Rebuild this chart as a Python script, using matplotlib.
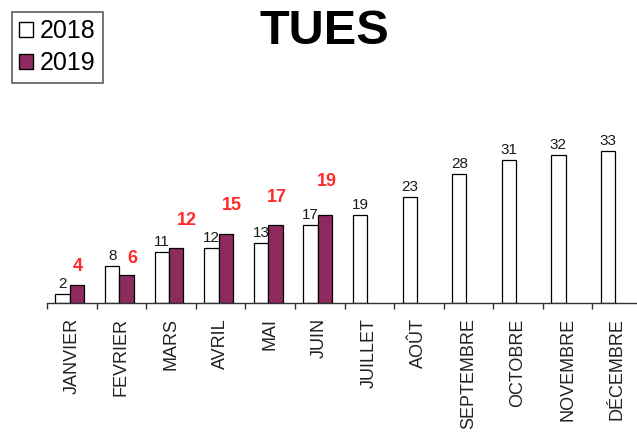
import numpy as np
import matplotlib
matplotlib.use('Agg')
import matplotlib.pyplot as plt
from matplotlib.patches import Patch

plt.rcParams['font.family'] = ['Liberation Sans', 'DejaVu Sans']

# data
months = ['JANVIER', 'FEVRIER', 'MARS', 'AVRIL', 'MAI', 'JUIN', 'JUILLET',
          'AOÛT', 'SEPTEMBRE', 'OCTOBRE', 'NOVEMBRE', 'DÉCEMBRE']
tues_2018 = [2, 8, 11, 12, 13, 17, 19, 23, 28, 31, 32, 33]
tues_2019 = [4, 6, 12, 15, 17, 19]

# hand placed red labels (pixels from bar top)
red_dx = [1, 6, 11, 6, 2, 2]
red_dy = [14, 12, 23, 24, 23, 29]

purple = '#8E2B5E'
red = '#ff2a2a'

fig = plt.figure(figsize=(6.37, 4.34), dpi=100)
ax = fig.add_axes([47/637, 131/434, 595/637, 166/434])

x = np.arange(len(months))
w = 0.29
ax.bar(x - 0.185, tues_2018, w, color='white', edgecolor='black', linewidth=0.9)
x19 = x[:len(tues_2019)]
ax.bar(x19 + 0.105, tues_2019, w, color=purple, edgecolor='black', linewidth=0.9)

for xi, v in zip(x, tues_2018):
    ax.annotate(str(v), (xi - 0.185, v), xytext=(0, 6), textcoords='offset pixels',
                ha='center', va='baseline', fontsize=11, color='#1a1a1a')
for xi, v, dx, dy in zip(x19, tues_2019, red_dx, red_dy):
    ax.annotate(str(v), (xi + 0.105, v), xytext=(dx, dy), textcoords='offset pixels',
                ha='center', va='baseline', fontsize=13, fontweight='bold', color=red)

ax.set_xlim(-0.5, len(months) - 0.5)
ax.set_ylim(0, 36)
for s in ['top', 'left', 'right']:
    ax.spines[s].set_visible(False)
ax.spines['bottom'].set_linewidth(1.0)
ax.spines['bottom'].set_color('#333333')
ax.set_yticks([])

ax.set_xticks(x)
ax.set_xticklabels(months, rotation=90, fontsize=13, color='#222222')
ax.tick_params(axis='x', which='major', length=0, pad=11)
ax.set_xticks(np.arange(len(months) + 1) - 0.5, minor=True)
ax.tick_params(axis='x', which='minor', length=4, width=1.0, direction='out', color='#333333')

fig.text(324/637, 1 - 32/434, 'TUES', ha='center', va='center',
         fontsize=35, fontweight='bold')

handles = [Patch(facecolor='white', edgecolor='black', label='2018'),
           Patch(facecolor=purple, edgecolor='black', label='2019')]
leg = fig.legend(handles=handles, loc='upper left', bbox_to_anchor=(12/637, 1 - 12/434),
                 fontsize=18, frameon=True, fancybox=False, handlelength=0.55,
                 handleheight=0.55, handletextpad=0.25, labelspacing=0.3,
                 borderpad=0.3, borderaxespad=0)
leg.get_frame().set_edgecolor('#333333')
leg.get_frame().set_linewidth(1.2)

fig.savefig('out.png', dpi=100)
